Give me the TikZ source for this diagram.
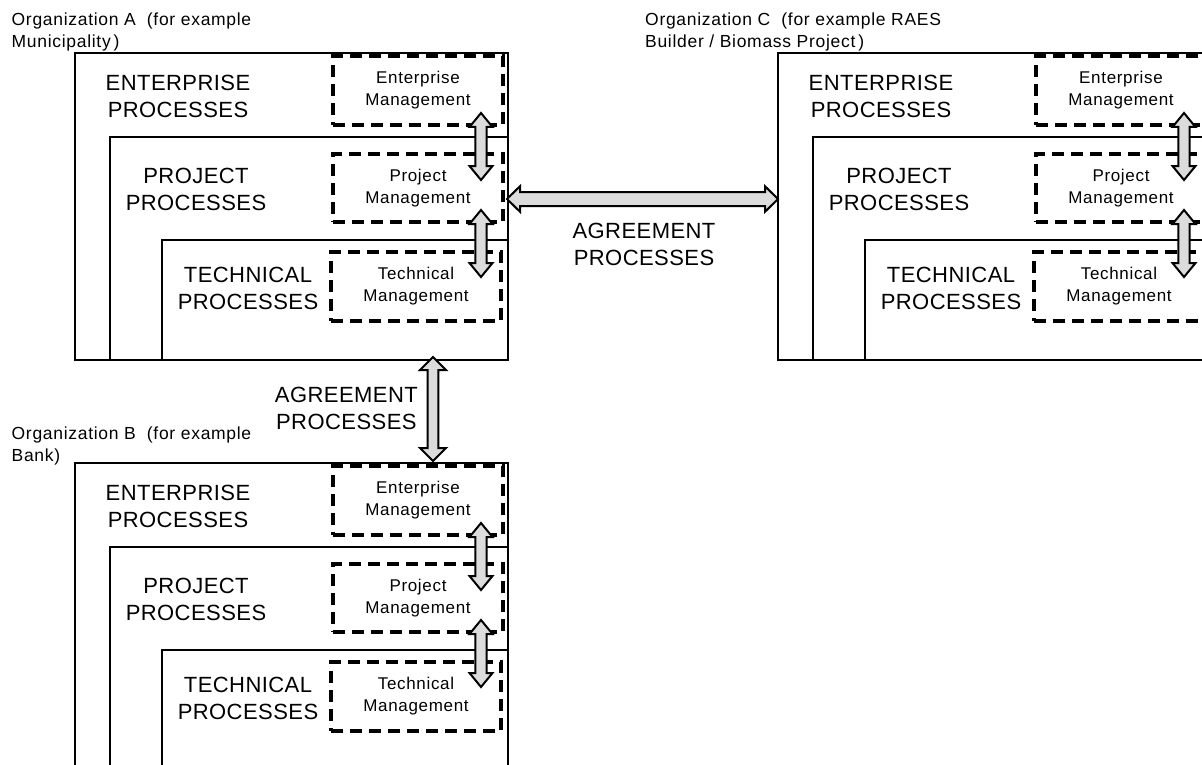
\documentclass[tikz,border=0pt]{standalone}
\usepackage{fontspec}
\setmainfont{Liberation Sans}
\newfontfamily\procfont[LetterSpace=2]{Liberation Sans}
\newfontfamily\mgmtfont[LetterSpace=4]{Liberation Sans}
\usetikzlibrary{calc}
\definecolor{arrowgray}{RGB}{220,220,220}
\tikzset{
  procbox/.style={draw, line width=2pt, fill=white, inner sep=0pt, anchor=north west},
  mgmtbox/.style={draw, line width=3.2pt, dash pattern=on 12pt off 7pt,
    minimum width=170pt, inner sep=0pt, align=center,
    font=\mgmtfont\fontsize{17}{22}\selectfont},
  proclabel/.style={align=center, inner sep=0pt, font=\procfont\fontsize{22}{27}\selectfont},
  orglabel/.style={align=left, anchor=west, inner sep=0pt,
    font=\mgmtfont\fontsize{17.5}{22}\selectfont},
  fat/.style={draw, line width=2pt, fill=arrowgray, line join=miter},
  % vertical double arrow: shaft half width / head half width / head length
  vfat/.style args={#1/#2/#3}{fat, to path={let \p1=(\tikztostart), \p2=(\tikztotarget) in
    (\x1,\y1) -- (\x1+#2,\y1-#3) -- (\x1+#1,\y1-#3) -- (\x1+#1,\y2+#3) -- (\x1+#2,\y2+#3)
    -- (\x1,\y2) -- (\x1-#2,\y2+#3) -- (\x1-#1,\y2+#3) -- (\x1-#1,\y1-#3) -- (\x1-#2,\y1-#3) -- cycle}},
  % horizontal double arrow: shaft half width / head half width / head length
  hfat/.style args={#1/#2/#3}{fat, to path={let \p1=(\tikztostart), \p2=(\tikztotarget) in
    (\x1,\y1) -- (\x1+#3,\y1+#2) -- (\x1+#3,\y1+#1) -- (\x2-#3,\y1+#1) -- (\x2-#3,\y1+#2)
    -- (\x2,\y1) -- (\x2-#3,\y1-#2) -- (\x2-#3,\y1-#1) -- (\x1+#3,\y1-#1) -- (\x1+#3,\y1-#2) -- cycle}},
}
\begin{document}
\begin{tikzpicture}[x=1pt,y=-1pt]
\useasboundingbox (0,0) rectangle (1202,765);
\fill[white] (0,0) rectangle (1202,765);
\clip (0,0) rectangle (1202,765);

% one organisation panel: enterprise / project / technical layers
\foreach \o/\dx/\dy in {A/0/0, C/703/0, B/0/410}{
  \node[procbox, minimum width=433pt, minimum height=307pt] (\o-ent) at ({74+\dx},{52+\dy}) {};
  \node[procbox, minimum width=398pt, minimum height=223pt] (\o-prj) at ({109+\dx},{136+\dy}) {};
  \node[procbox, minimum width=346pt, minimum height=120pt] (\o-tec) at ({161+\dx},{239+\dy}) {};

  \node[proclabel] (\o-entL) at ({178+\dx},{96+\dy}) {ENTERPRISE\\PROCESSES};
  \node[proclabel] (\o-prjL) at ({196+\dx},{189+\dy}) {PROJECT\\PROCESSES};
  \node[proclabel] (\o-tecL) at ({248+\dx},{288+\dy}) {TECHNICAL\\PROCESSES};

  \node[mgmtbox, minimum height=69pt] (\o-em) at ({418+\dx},{90.5+\dy}) {Enterprise\\Management};
  \node[mgmtbox, minimum height=68pt] (\o-pm) at ({418+\dx},{188+\dy}) {Project\\Management};
  \node[mgmtbox, minimum height=69pt] (\o-tm) at ({416+\dx},{286.5+\dy}) {Technical\\Management};

  \coordinate (\o-u1) at ({481+\dx},{113+\dy});
  \coordinate (\o-d1) at ({481+\dx},{180+\dy});
  \coordinate (\o-u2) at ({481+\dx},{210+\dy});
  \coordinate (\o-d2) at ({481+\dx},{277+\dy});
  \draw[vfat=5.6pt/11.5pt/14pt] (\o-u1) to (\o-d1);
  \draw[vfat=5.6pt/11.5pt/14pt] (\o-u2) to (\o-d2);
}

% organisation captions
\node[orglabel] (capA) at (11.5,32) {Organization A~ (for example\\Municipality\,)};
\node[orglabel] (capB) at (11.5,446) {Organization B~ (for example\\Bank)};
\node[orglabel] (capC) at (645,32) {Organization C~ (for example RAES\\Builder / Biomass Project\,)};

% agreement between A and C
\coordinate (hL) at (507,199);
\coordinate (hR) at (778,199);
\draw[hfat=7pt/12.8pt/13pt] (hL) to (hR);
\node[proclabel] (agrAC) at (644,244) {AGREEMENT\\PROCESSES};

% agreement between A and B
\coordinate (vT) at (433,357);
\coordinate (vB) at (433,461);
\draw[vfat=5.3pt/13pt/13pt] (vT) to (vB);
\node[proclabel, anchor=east] (agrAB) at (418,408) {AGREEMENT\\PROCESSES};
\end{tikzpicture}
\end{document}
